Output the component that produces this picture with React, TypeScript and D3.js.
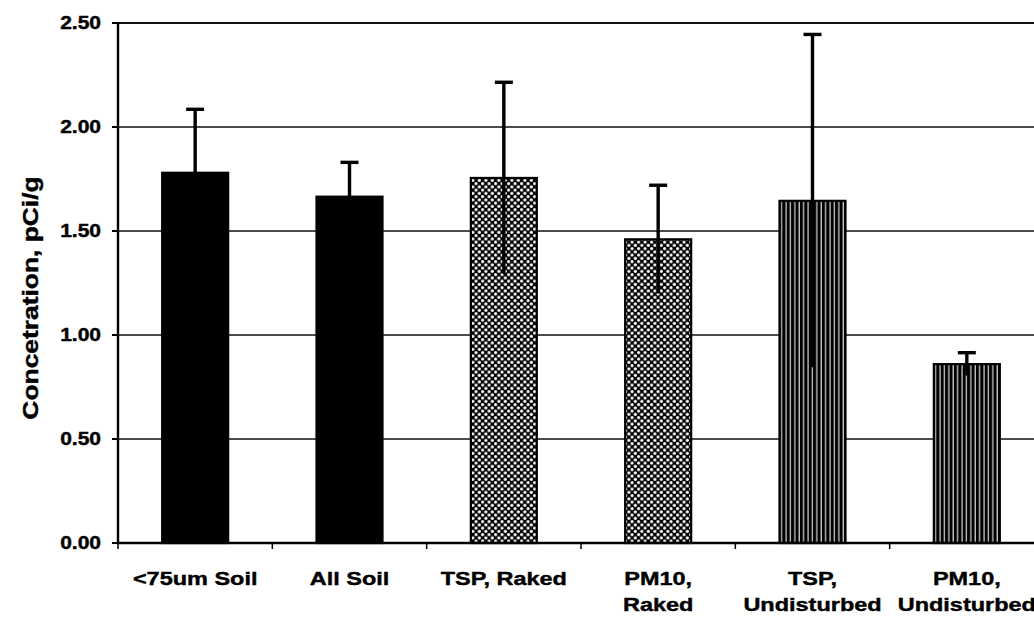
import React from "react";
import * as d3 from "d3";

// values
const categories = ["<75um Soil", "All Soil", "TSP, Raked", "PM10, Raked", "TSP, Undisturbed", "PM10, Undisturbed"];
const labelLines = [["<75um Soil"], ["All Soil"], ["TSP, Raked"], ["PM10,", "Raked"], ["TSP,", "Undisturbed"], ["PM10,", "Undisturbed"]];
const means = [1.78, 1.665, 1.755, 1.46, 1.645, 0.86];
const errors = [0.305, 0.165, 0.46, 0.26, 0.8, 0.055];
const yTicks = [0, 0.5, 1.0, 1.5, 2.0, 2.5];

const W = 1034;
const H = 618;
const FONT = "'Liberation Sans', Arial, sans-serif";

export default function App() {
  const x = d3.scaleBand<string>().domain(categories).range([118, 1044]).padding(0);
  const y = d3.scaleLinear().domain([0, 2.5]).range([543, 23]);
  const barW = 66;
  const capW = 18;

  // fill kind per bar: solid black, dotted checker, vertical stripes
  const fillFor = (i: number) => (i < 2 ? "#000" : i < 4 ? "url(#dots)" : "url(#stripes)");

  return (
    <div style={{ position: "absolute", left: 0, top: 0 }}>
      <svg width={W} height={H} style={{ display: "block", background: "#fff" }}>
        <defs>
          <pattern id="dots" width={6.5} height={6.5} patternUnits="userSpaceOnUse">
            <rect width={6.5} height={6.5} fill="#000" />
            <circle cx={1.6} cy={1.6} r={1.6} fill="#fff" />
            <circle cx={4.85} cy={4.85} r={1.6} fill="#fff" />
          </pattern>
          <pattern id="stripes" width={4.4} height={10} patternUnits="userSpaceOnUse">
            <rect width={4.4} height={10} fill="#000" />
            <rect x={2.2} width={1.3} height={10} fill="#c8c8c8" />
          </pattern>
        </defs>

        {/* gridlines */}
        {yTicks.map((t) => (
          <line key={t} x1={118} x2={1044} y1={y(t)} y2={y(t)} stroke="#111" strokeWidth={t === 2.5 ? 2.2 : 1.6} />
        ))}

        {/* bars */}
        {categories.map((c, i) => {
          const cx = (x(c) as number) + x.bandwidth() / 2;
          return (
            <rect
              key={c}
              x={cx - barW / 2}
              y={y(means[i])}
              width={barW}
              height={y(0) - y(means[i])}
              fill={fillFor(i)}
              stroke="#000"
              strokeWidth={2.2}
            />
          );
        })}

        {/* error bars */}
        {categories.map((c, i) => {
          const cx = (x(c) as number) + x.bandwidth() / 2;
          const hi = y(means[i] + errors[i]);
          const lo = y(means[i] - errors[i]);
          return (
            <g key={c} stroke="#000" strokeWidth={3.4}>
              <line x1={cx} x2={cx} y1={hi} y2={lo} />
              <line x1={cx - capW / 2} x2={cx + capW / 2} y1={hi} y2={hi} />
            </g>
          );
        })}

        {/* axes */}
        <line x1={118} x2={118} y1={22} y2={544} stroke="#000" strokeWidth={2.4} />
        <line x1={117} x2={1044} y1={543} y2={543} stroke="#000" strokeWidth={2.4} />
        {yTicks.map((t) => (
          <line key={t} x1={112} x2={118} y1={y(t)} y2={y(t)} stroke="#000" strokeWidth={2} />
        ))}
        {categories.map((c) => (
          <line key={c} x1={x(c) as number} x2={x(c) as number} y1={543} y2={549} stroke="#000" strokeWidth={1.5} />
        ))}

        {/* y tick labels */}
        {yTicks.map((t) => (
          <text
            key={t}
            transform={`translate(101,${y(t)}) scale(1.2,1)`}
            textAnchor="end"
            dy="0.36em"
            fontFamily={FONT}
            fontWeight="bold"
            fontSize={17.5}
            fill="#000"
            stroke="#000"
            strokeWidth={0.4}
          >
            {d3.format(".2f")(t)}
          </text>
        ))}

        {/* x labels */}
        {categories.map((c, i) => {
          const cx = (x(c) as number) + x.bandwidth() / 2;
          return (
            <g key={c} transform={`translate(${cx},0) scale(1.27,1)`}>
              {labelLines[i].map((ln, j) => (
                <text
                  key={j}
                  x={0}
                  y={585 + j * 26}
                  textAnchor="middle"
                  fontFamily={FONT}
                  fontWeight="bold"
                  fontSize={18.5}
                  fill="#000"
                  stroke="#000"
                  strokeWidth={0.4}
                >
                  {ln}
                </text>
              ))}
            </g>
          );
        })}

        {/* y axis title */}
        <text
          transform="translate(38,298) rotate(-90) scale(1.2,1)"
          textAnchor="middle"
          fontFamily={FONT}
          fontWeight="bold"
          fontSize={22}
          fill="#000"
          stroke="#000"
          strokeWidth={0.4}
        >
          Concetration, pCi/g
        </text>
      </svg>
    </div>
  );
}
